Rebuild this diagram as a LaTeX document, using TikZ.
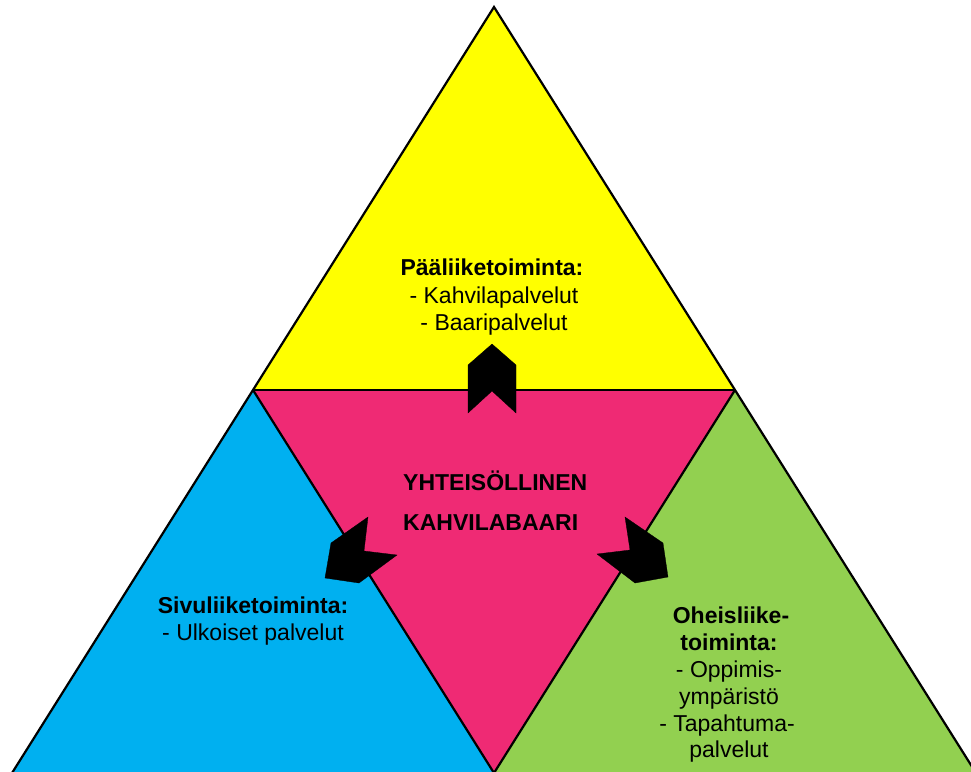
\documentclass[tikz,border=0pt]{standalone}
\usepackage{fontspec}
\setmainfont{Liberation Sans}
\definecolor{cyel}{HTML}{FFFF00}
\definecolor{cpink}{HTML}{EF2A74}
\definecolor{cblue}{HTML}{00B0F0}
\definecolor{cgreen}{HTML}{92D050}
\tikzset{
  edge/.style={draw=black, line width=2.2pt, line join=miter},
  chev/.style={fill=black, draw=black, line width=0.3pt},
  txt/.style={inner sep=0pt, anchor=base, font=\fontsize{23}{27.5}\selectfont},
  btxt/.style={txt, font=\fontsize{23}{27.5}\selectfont\bfseries},
}
\begin{document}
\begin{tikzpicture}[x=1pt, y=-1pt]
\useasboundingbox (0,0) rectangle (971,771);
\clip (0,0) rectangle (971,771);
% main vertices
\coordinate (T) at (494,7);
\coordinate (L) at (253,390);
\coordinate (R) at (735,390);
\coordinate (B) at (494,773);
\coordinate (BL) at (12,773);
\coordinate (BR) at (976,773);
% fills
\fill[cyel] (T) -- (L) -- (R) -- cycle;
\fill[cpink] (L) -- (R) -- (B) -- cycle;
\fill[cblue] (L) -- (B) -- (BL) -- cycle;
\fill[cgreen] (R) -- (BR) -- (B) -- cycle;
% outlines
\draw[edge] (BL) -- (L) -- (T) -- (R) -- (BR);
\draw[edge] (L) -- (R);
\draw[edge] (L) -- (B) -- (R);
% chevron arrows
\fill[chev] (492,344) -- (516,365) -- (516,413) -- (492,391) -- (468,413) -- (468,365) -- cycle;
\fill[chev] (325,578) -- (331,543) -- (368,517) -- (364,551) -- (397,555) -- (359,583) -- cycle;
\fill[chev] (668,577) -- (663,543) -- (625,517) -- (630,550) -- (597,554) -- (635,583) -- cycle;
% top text
\node[btxt] (t1) at (492,275) {Pääliiketoiminta:};
\node[txt] (t2) at (494,303) {- Kahvilapalvelut};
\node[txt] (t3) at (494,330) {- Baaripalvelut};
% centre text
\node[btxt, anchor=base west] (c1) at (403,490) {YHTEISÖLLINEN};
\node[btxt, anchor=base west] (c2) at (403,530) {KAHVILABAARI};
% left text
\node[btxt] (l1) at (253,613) {Sivuliiketoiminta:};
\node[txt] (l2) at (253,640) {- Ulkoiset palvelut};
% right text
\node[btxt] (r1) at (731,623) {Oheisliike-};
\node[btxt] (r2) at (729,650) {toiminta:};
\node[txt] (r3) at (729,677) {- Oppimis-};
\node[txt] (r4) at (729,704) {ympäristö};
\node[txt] (r5) at (727,731) {- Tapahtuma-};
\node[txt] (r6) at (729,757) {palvelut};
\end{tikzpicture}
\end{document}
